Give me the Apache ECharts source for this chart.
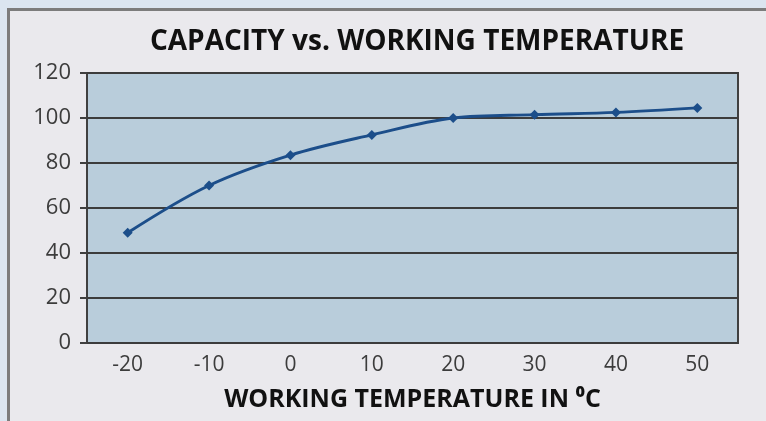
<!DOCTYPE html>
<html><head><meta charset="utf-8">
<script src="https://cdn.jsdelivr.net/npm/echarts@6/dist/echarts.min.js"></script>
<style>
html,body{margin:0;padding:0;width:766px;height:421px;overflow:hidden;background:#dbe5f0;}
#frame{position:absolute;left:7px;top:8px;width:770px;height:420px;background:#eae9ed;border-left:3px solid #7c7c7c;border-top:3px solid #7c7c7c;box-sizing:border-box;}
#chart{position:absolute;left:0;top:0;width:766px;height:421px;}
</style></head>
<body>
<div id="frame"></div>
<div id="chart"></div>
<script>
const categories = ['-20','-10','0','10','20','30','40','50'];
const capacity = [49, 70, 83.5, 92.5, 100, 101.5, 102.5, 104.5];
const yTicks = [0, 20, 40, 60, 80, 100, 120];
const titleText = 'CAPACITY vs. WORKING TEMPERATURE';
const xAxisTitle = 'WORKING TEMPERATURE IN \u2070C';

const chart = echarts.init(document.getElementById('chart'));
chart.setOption({
  backgroundColor: 'transparent',
  animation: false,
  title: {
    text: titleText, left: 412, top: 23, textAlign: 'center',
    textStyle: {fontFamily: 'Open Sans', fontWeight: 'bold', fontSize: 28, color: '#111'}
  },
  grid: {left: 87, right: 28, top: 73, bottom: 78, show: true, backgroundColor: '#b9cddb', borderColor: '#404040', borderWidth: 2, containLabel: false},
  xAxis: {
    type: 'category', data: categories, boundaryGap: true,
    name: xAxisTitle, nameLocation: 'middle', nameGap: 44,
    nameTextStyle: {fontFamily: 'Open Sans', fontWeight: 'bold', fontSize: 25, color: '#111'},
    axisLine: {show: false}, axisTick: {show: false},
    axisLabel: {fontFamily: 'Open Sans', fontSize: 21, color: '#3c3c3c', margin: 12}
  },
  yAxis: {
    type: 'value', min: yTicks[0], max: yTicks[yTicks.length-1], interval: 20,
    axisLine: {show: false},
    axisTick: {show: true, length: 7, lineStyle: {color: '#404040', width: 2}},
    axisLabel: {fontFamily: 'Open Sans', fontSize: 22, color: '#3c3c3c', margin: 16},
    splitLine: {lineStyle: {color: '#3c3c3c', width: 2}}
  },
  series: [{
    type: 'line', data: capacity, smooth: 0.35,
    symbol: 'diamond', symbolSize: 10,
    lineStyle: {color: '#1c4e8a', width: 3},
    itemStyle: {color: '#1c4e8a'}
  }]
});
</script>
</body></html>
